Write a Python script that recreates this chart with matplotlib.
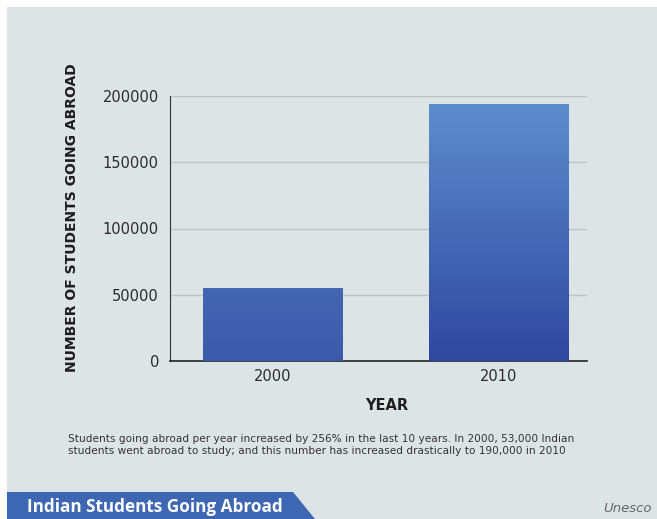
import numpy as np
import matplotlib.pyplot as plt
from matplotlib.patches import Rectangle, Polygon
from matplotlib.colors import LinearSegmentedColormap

years = ['2000', '2010']
students = [55000, 194000]
yticks = [0, 50000, 100000, 150000, 200000]
caption = ('Students going abroad per year increased by 256% in the last 10 years. In 2000, 53,000 Indian\n'
           'students went abroad to study; and this number has increased drastically to 190,000 in 2010')
title = 'Indian Students Going Abroad'
source = 'Unesco'

# top / bottom colour of each bar gradient
bar_tops = ['#4566b3', '#5e8dce']
bar_bottoms = ['#3c5aaa', '#2f479f']
bg = '#dde4e6'

fig = plt.figure(figsize=(6.57, 5.19), dpi=100)
fig.patch.set_facecolor('white')
fig.patches.append(Rectangle((7 / 657, 0), 1, 1 - 7 / 519, transform=fig.transFigure,
                             facecolor=bg, edgecolor='none', zorder=-5))

ax = fig.add_axes([170 / 657, 1 - 361 / 519, 417 / 657, 265 / 519])
ax.set_facecolor('none')
x = np.arange(len(years))
bars = ax.bar(x, students, width=0.614, color='none', zorder=3)
for i, b in enumerate(bars):
    cmap = LinearSegmentedColormap.from_list('g%d' % i, [bar_bottoms[i], bar_tops[i]])
    grad = np.linspace(0, 1, 256).reshape(-1, 1)
    im = ax.imshow(grad, cmap=cmap, origin='lower', aspect='auto', zorder=3,
                   extent=[b.get_x(), b.get_x() + b.get_width(), 0, b.get_height()])
    im.set_clip_path(b)

ax.set_xlim(-0.4525, 1.389)
ax.set_ylim(0, 200000)
ax.set_xticks(x)
ax.set_xticklabels(years)
ax.set_yticks(yticks)
ax.tick_params(length=0, labelsize=10.5, colors='#2b2b2b', pad=8)
ax.tick_params(axis='x', pad=6)
ax.grid(axis='y', color='#bcc3c5', linewidth=1, zorder=1)
for s in ['top', 'right']:
    ax.spines[s].set_visible(False)
ax.spines['left'].set_color('#333333')
ax.spines['bottom'].set_color('#222222')
ax.spines['bottom'].set_linewidth(1.2)

fig.text(72 / 657, 1 - 218 / 519, 'NUMBER OF STUDENTS GOING ABROAD', rotation=90,
         ha='center', va='center', fontsize=10, fontweight='bold', color='#1e1e1e')
fig.text(387 / 657, 1 - 405 / 519, 'YEAR', ha='center', va='center',
         fontsize=10.5, fontweight='bold', color='#1e1e1e')
fig.text(68 / 657, 1 - 445 / 519, caption, ha='left', va='center', fontsize=7.6,
         color='#333333', linespacing=1.3)

fig.patches.append(Polygon([(7 / 657, 0), (315 / 657, 0), (293 / 657, 1 - 492 / 519),
                            (7 / 657, 1 - 492 / 519)], closed=True, transform=fig.transFigure,
                           facecolor='#3d66b3', edgecolor='none', zorder=-4))
fig.text(27 / 657, 1 - 507 / 519, title, ha='left', va='center', fontsize=12.3,
         fontweight='bold', color='white', family='Open Sans')
fig.text(652 / 657, 1 - 508 / 519, source, ha='right', va='center', fontsize=9.5,
         style='italic', color='#666666')

fig.savefig('out.png', dpi=100, facecolor=fig.get_facecolor())
